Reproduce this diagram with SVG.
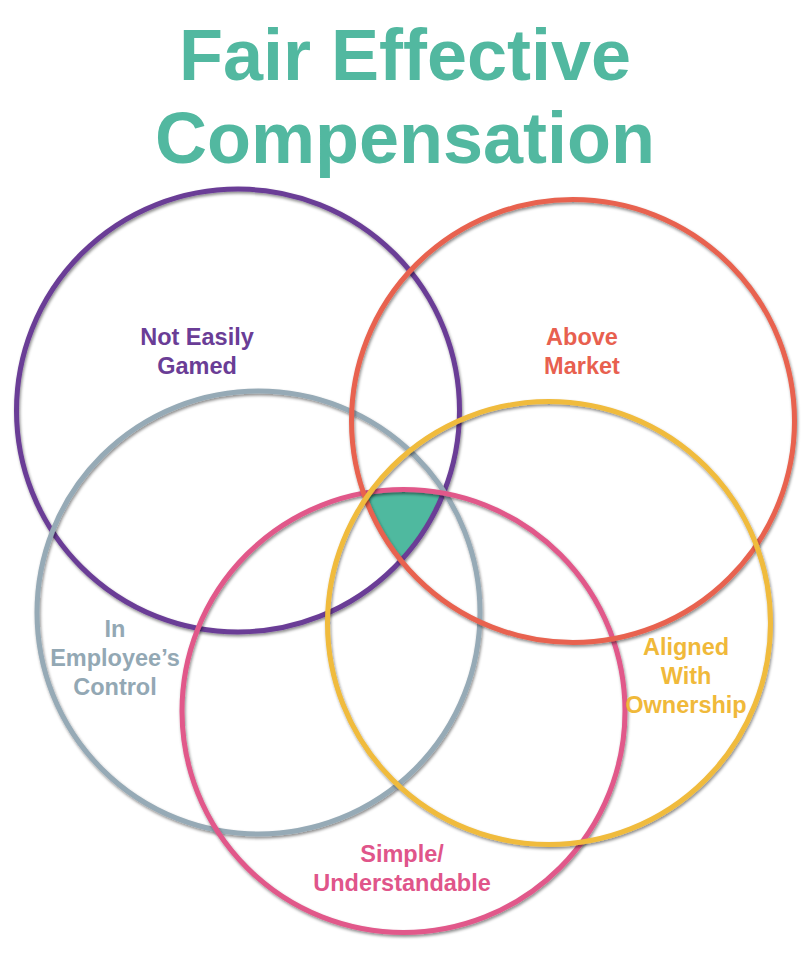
<svg xmlns="http://www.w3.org/2000/svg" width="808" height="956" viewBox="0 0 808 956">
<defs>
<style>
.ring{fill:none;stroke-width:5;filter:url(#sh)}
.lbl{font-family:"Liberation Sans",Arial,sans-serif;font-weight:bold;font-size:23.5px;text-anchor:middle}
.title{font-family:"Liberation Sans",Arial,sans-serif;font-weight:bold;font-size:72px;text-anchor:middle;fill:#52b8a0}
</style>
<filter id="sh" x="-10%" y="-10%" width="120%" height="120%">
<feDropShadow dx="1" dy="2" stdDeviation="1.5" flood-color="#000" flood-opacity="0.45"/>
</filter>
<clipPath id="cPurple"><circle cx="238" cy="410.5" r="221.5"/></clipPath>
<clipPath id="cRed"><circle cx="573" cy="421" r="221.5"/></clipPath>
<clipPath id="cGray"><circle cx="258.5" cy="612.5" r="221.5"/></clipPath>
<clipPath id="cYellow"><circle cx="549" cy="623" r="221.5"/></clipPath>
</defs>
<rect width="808" height="956" fill="#fff"/>
<g id="title">
<text class="title" x="405" y="80">Fair Effective</text>
<text class="title" x="405" y="163">Compensation</text>
</g>
<g id="center" clip-path="url(#cPurple)"><g clip-path="url(#cRed)"><g clip-path="url(#cGray)"><g clip-path="url(#cYellow)">
<circle cx="403.5" cy="711" r="221.5" fill="#4fb99f"/>
</g></g></g></g>
<g id="notEasilyGamed">
<circle class="ring" cx="238" cy="410.5" r="221.5" stroke="#6a3d96"/>
<text class="lbl" fill="#6a3d96"><tspan x="197" y="345">Not Easily</tspan><tspan x="197" y="374">Gamed</tspan></text>
</g>
<g id="inEmployeesControl">
<circle class="ring" cx="258.5" cy="612.5" r="221.5" stroke="#96aab6"/>
<text class="lbl" fill="#93a8b4"><tspan x="115" y="637">In</tspan><tspan x="115" y="666">Employee’s</tspan><tspan x="115" y="695">Control</tspan></text>
</g>
<g id="simpleUnderstandable">
<circle class="ring" cx="403.5" cy="711" r="221.5" stroke="#e1588a"/>
<text class="lbl" fill="#e0558a"><tspan x="402" y="862">Simple/</tspan><tspan x="402" y="891">Understandable</tspan></text>
</g>
<g id="aboveMarket">
<circle class="ring" cx="573" cy="421" r="221.5" stroke="#e8624f"/>
<text class="lbl" fill="#e8604f"><tspan x="582" y="345">Above</tspan><tspan x="582" y="374">Market</tspan></text>
</g>
<g id="alignedWithOwnership">
<circle class="ring" cx="549" cy="623" r="221.5" stroke="#f0bb3c"/>
<text class="lbl" fill="#f0b93a"><tspan x="686" y="655">Aligned</tspan><tspan x="686" y="684">With</tspan><tspan x="686" y="713">Ownership</tspan></text>
</g>
</svg>
